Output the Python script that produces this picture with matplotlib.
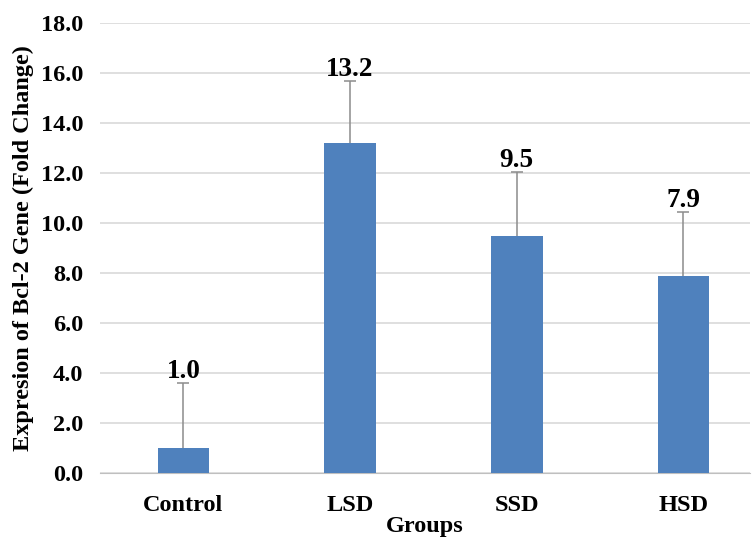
import matplotlib.pyplot as plt

groups = ["Control", "LSD", "SSD", "HSD"]
values = [1.0, 13.2, 9.5, 7.9]
errors = [2.6, 2.5, 2.55, 2.55]

plt.rcParams['font.family'] = ['Liberation Serif', 'DejaVu Serif']
plt.rcParams['font.weight'] = 'bold'

fig = plt.figure(figsize=(7.56, 5.4), dpi=100)
ax = fig.add_axes([100/756, 67/540, 650/756, 450/540])

x = range(len(groups))
ax.bar(x, values, width=0.31, color='#4f81bd', zorder=3)
eb = ax.errorbar(x, values, yerr=[[0]*4, errors], fmt='none', ecolor='#8c8c8c',
                 elinewidth=1.1, capsize=4, capthick=1.1, zorder=4)
# only the upper cap is drawn in the original
eb[1][0].set_visible(False)

for i in range(len(groups)):
    top = values[i] + errors[i]
    ax.text(i, top + 0.45, '%.1f' % values[i], ha='center', va='center',
            size=19.5, fontweight='bold', zorder=5)

ax.set_xlim(-0.5, 3.4)
ax.set_ylim(0, 18)
ax.set_yticks([0, 2, 4, 6, 8, 10, 12, 14, 16, 18])
ax.set_yticklabels(['%.1f' % t for t in ax.get_yticks()], fontsize=17.5, fontweight='bold')
ax.set_xticks(list(x))
ax.set_xticklabels(groups, fontsize=17.5, fontweight='bold')
ax.tick_params(axis='both', length=0)
ax.tick_params(axis='y', pad=12)
ax.tick_params(axis='x', pad=16)

ax.grid(axis='y', color='#d9d9d9', linewidth=1.2, zorder=0)
for s in ['top', 'right', 'left']:
    ax.spines[s].set_visible(False)
ax.spines['bottom'].set_color('#bfbfbf')

ax.set_ylabel('Expresion of Bcl-2 Gene (Fold Change)', fontsize=17.5, fontweight='bold', labelpad=5)
ax.set_xlabel('Groups', fontsize=17.5, fontweight='bold', labelpad=0)

fig.savefig('out.png', dpi=100)
